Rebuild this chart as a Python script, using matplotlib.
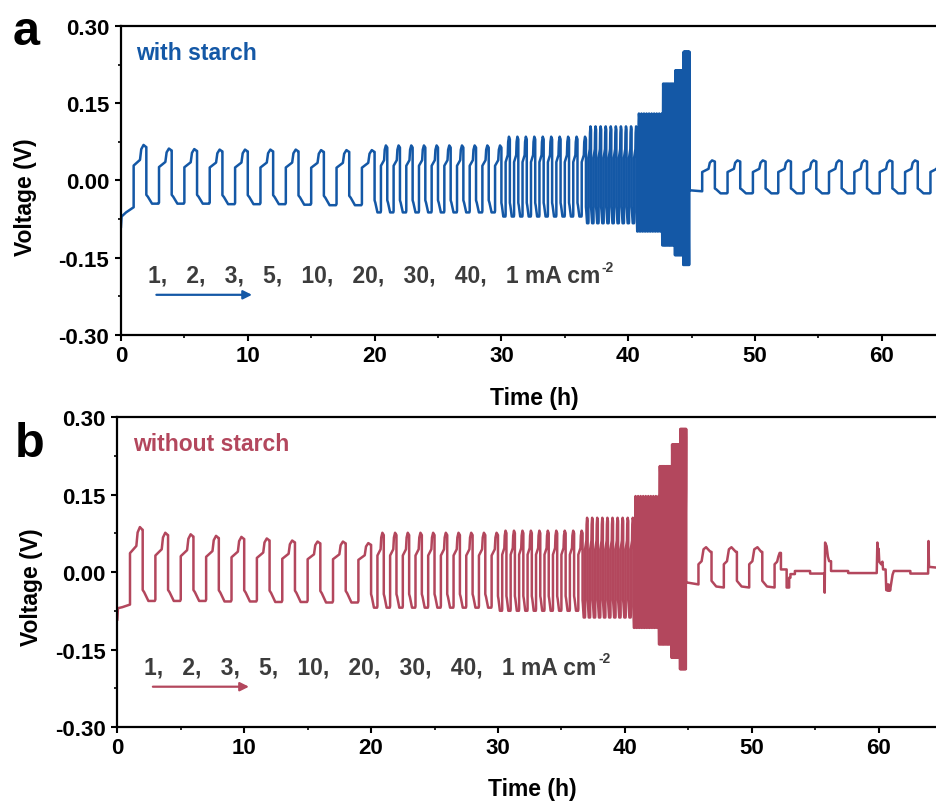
import matplotlib.pyplot as plt
import numpy as np
from matplotlib.ticker import MultipleLocator, FormatStrFormatter
from matplotlib.transforms import offset_copy

plt.rcParams['font.family'] = ['Liberation Sans', 'DejaVu Sans']
plt.rcParams['font.weight'] = 'bold'
plt.rcParams['axes.unicode_minus'] = False

# rate test: current density (mA cm-2) and cycles per step, 1 mAh cm-2 per half cycle
rates = [1, 2, 3, 5, 10, 20, 30, 40]
cycles = [10, 10, 10, 10, 10, 10, 10, 10]

# (a) with starch: upper / lower voltage of each step (V)
peak_a = [0.060, 0.068, 0.085, 0.105, 0.130, 0.188, 0.214, 0.250]
trough_a = [-0.045, -0.062, -0.070, -0.083, -0.099, -0.126, -0.145, -0.164]
first_peaks_a = [0.069, 0.062, 0.061, 0.060, 0.060, 0.060, 0.060, 0.059, 0.059, 0.059]
first_troughs_a = [-0.045, -0.045, -0.045, -0.045, -0.046, -0.046, -0.046, -0.047, -0.048, -0.048]
init_t_a = [0.0, 0.05, 0.4, 1.0]
init_v_a = [-0.090, -0.070, -0.062, -0.052]
rec_peak_a = 0.039
rec_trough_a = -0.025

# (b) without starch
peak_b = [0.065, 0.076, 0.080, 0.105, 0.147, 0.205, 0.247, 0.277]
trough_b = [-0.056, -0.069, -0.075, -0.088, -0.108, -0.140, -0.166, -0.188]
first_peaks_b = [0.087, 0.076, 0.073, 0.070, 0.068, 0.065, 0.061, 0.059, 0.059, 0.056]
first_troughs_b = [-0.056, -0.056, -0.056, -0.056, -0.057, -0.057, -0.058, -0.058, -0.059, -0.059]
init_t_b = [0.0, 0.05, 0.4, 1.0]
init_v_b = [-0.092, -0.070, -0.068, -0.063]
# after the rate test (1 mA cm-2) the cell without starch goes irregular
rec_t_b = [44.83, 45.8, 45.8, 46.05, 46.2, 46.4, 46.75, 46.83, 46.83, 47.2, 47.8,
           47.8, 48.05, 48.2, 48.4, 48.75, 48.83, 48.83, 49.2, 49.8,
           49.8, 50.05, 50.2, 50.45, 50.75, 50.83, 50.83, 51.2, 51.8,
           51.8, 52.0, 52.1, 52.2, 52.3, 52.3, 52.75, 52.75, 52.95, 52.95, 53.05,
           53.05, 53.4, 53.4, 54.6, 54.6, 55.72, 55.75, 55.78, 55.9, 56.0, 56.1,
           56.25, 56.25, 57.6, 57.6, 59.85, 59.9, 59.95, 60.0, 60.05, 60.2, 60.3,
           60.35, 60.55, 60.6, 60.65, 60.7, 60.75, 60.8, 60.85, 60.9, 61.0, 61.1,
           61.2, 62.5, 62.5, 63.9, 63.93, 63.97, 64.8]
rec_v_b = [-0.020, -0.024, 0.015, 0.021, 0.044, 0.048, 0.039, 0.039, -0.017, -0.028, -0.030,
           0.015, 0.021, 0.044, 0.048, 0.039, 0.039, -0.017, -0.028, -0.030,
           0.015, 0.021, 0.044, 0.048, 0.039, 0.039, -0.017, -0.028, -0.030,
           0.015, 0.020, 0.030, 0.037, 0.037, 0.005, 0.005, -0.030, -0.030, -0.011, -0.011,
           -0.004, -0.004, 0.002, 0.002, -0.003, -0.003, -0.040, 0.057, 0.050, 0.030, 0.021,
           0.021, 0.002, 0.002, -0.002, -0.002, 0.057, 0.030, 0.045, 0.020, 0.015, 0.020,
           0.005, 0.005, -0.035, -0.025, -0.036, -0.024, -0.036, -0.025, -0.036, -0.020, -0.005,
           0.002, 0.002, -0.003, -0.003, 0.060, 0.010, 0.008]

# shape of one half cycle (fraction of half-cycle time, fraction of peak/trough)
pos_frac = [0.0, 0.5, 0.6, 0.78, 0.95, 1.0]
pos_rel = [0.42, 0.58, 0.88, 1.0, 0.95, 0.94]
neg_frac = [0.0, 0.12, 0.45, 0.95, 1.0]
neg_rel = [0.62, 0.70, 1.0, 1.0, 0.95]


def half_cycle(t0, half, level, frac, rel):
    return list(t0 + half * np.array(frac)), list(level * np.array(rel))


def build(peaks, troughs, first_peaks, first_troughs, init_t, init_v):
    t, v = [], []
    t0 = 0.0
    for k, (rate, n) in enumerate(zip(rates, cycles)):
        half = 1.0 / rate
        for c in range(n):
            p = first_peaks[c] if k == 0 else peaks[k]
            q = first_troughs[c] if k == 0 else troughs[k]
            if k == 0 and c == 0:
                t += init_t
                v += init_v
            else:
                tt, vv = half_cycle(t0, half, q, neg_frac, neg_rel)
                t += tt
                v += vv
            t0 += half
            tt, vv = half_cycle(t0, half, p, pos_frac, pos_rel)
            t += tt
            v += vv
            t0 += half
    return t, v, t0


t_a, v_a, t_end = build(peak_a, trough_a, first_peaks_a, first_troughs_a, init_t_a, init_v_a)
# recovery at 1 mA cm-2, with starch
t0 = t_end
t_a += [t0, t0 + 1.0]
v_a += [-0.019, -0.021]
t0 += 1.0
for c in range(10):
    tt, vv = half_cycle(t0, 1.0, rec_peak_a, pos_frac, pos_rel)
    t_a += tt
    v_a += vv
    t0 += 1.0
    tt, vv = half_cycle(t0, 1.0, rec_trough_a, neg_frac, neg_rel)
    t_a += tt
    v_a += vv
    t0 += 1.0

t_b, v_b, t_end = build(peak_b, trough_b, first_peaks_b, first_troughs_b, init_t_b, init_v_b)
t_b += rec_t_b
v_b += rec_v_b

blue = '#1458a6'
red = '#b3475d'
grey = '#3c3c3c'

fig = plt.figure(figsize=(9.37, 8.03), dpi=100)
ax1 = fig.add_axes([0.1291, 0.5816, 0.8709, 0.3848])
ax2 = fig.add_axes([0.1252, 0.0934, 0.8748, 0.3860])

panels = [(ax1, t_a, v_a, blue, 'with starch', 64.35),
          (ax2, t_b, v_b, red, 'without starch', 64.6)]

rate_texts = []
for ax, t, v, col, name, xmax in panels:
    ax.plot(t, v, color=col, lw=1.8)
    ax.set_xlim(0, xmax)
    ax.set_ylim(-0.30, 0.30)
    ax.xaxis.set_major_locator(MultipleLocator(10))
    ax.xaxis.set_minor_locator(MultipleLocator(5))
    ax.yaxis.set_major_locator(MultipleLocator(0.15))
    ax.yaxis.set_minor_locator(MultipleLocator(0.075))
    ax.yaxis.set_major_formatter(FormatStrFormatter('%.2f'))
    ax.tick_params(which='major', direction='out', length=4.5, width=1.5, labelsize=16, pad=3)
    ax.tick_params(which='minor', direction='out', length=2.5, width=1.2)
    ax.tick_params(axis='y', which='major', pad=4)
    for s in ['left', 'bottom', 'top']:
        ax.spines[s].set_linewidth(1.6)
    ax.spines['right'].set_visible(False)
    for lab in ax.get_xticklabels() + ax.get_yticklabels():
        lab.set_fontweight('bold')
    ax.set_xlabel('Time (h)', fontsize=16.5, fontweight='bold')
    ax.set_ylabel('Voltage (V)', fontsize=16.5, fontweight='bold')
    ax.text(0.019, 0.915, name, transform=ax.transAxes, color=col, fontsize=16.5,
            fontweight='bold', va='center', ha='left')
    txt = ax.text(0.033, 0.194, '1,   2,   3,   5,   10,   20,   30,   40,   1 mA cm',
                  transform=ax.transAxes, color=grey, fontsize=16.5, fontweight='bold',
                  va='center', ha='left')
    rate_texts.append((ax, txt))
    ax.annotate('', xy=(0.164, 0.13), xytext=(0.040, 0.13), xycoords='axes fraction',
                arrowprops=dict(arrowstyle='-|>', color=col, lw=1.6, mutation_scale=13))

ax1.xaxis.set_label_coords(0.506, -0.165)
ax2.xaxis.set_label_coords(0.506, -0.16)
ax1.yaxis.set_label_coords(-0.103, 0.45)
ax2.yaxis.set_label_coords(-0.091, 0.455)

# small "-2" superscript right after "cm"
fig.canvas.draw()
for ax, txt in rate_texts:
    bb = txt.get_window_extent()
    x_end, y_top = ax.transAxes.inverted().transform((bb.x1, bb.y1))
    ax.text(x_end, y_top, '-2', transform=offset_copy(ax.transAxes, fig=fig, x=1.5, y=-3, units='dots'),
            color=grey, fontsize=10, fontweight='bold', va='center', ha='left')

fig.text(0.014, 0.944, 'a', fontsize=35, fontweight='bold', va='baseline', ha='left')
fig.text(0.016, 0.431, 'b', fontsize=35, fontweight='bold', va='baseline', ha='left')

fig.savefig('out.png', dpi=100)
